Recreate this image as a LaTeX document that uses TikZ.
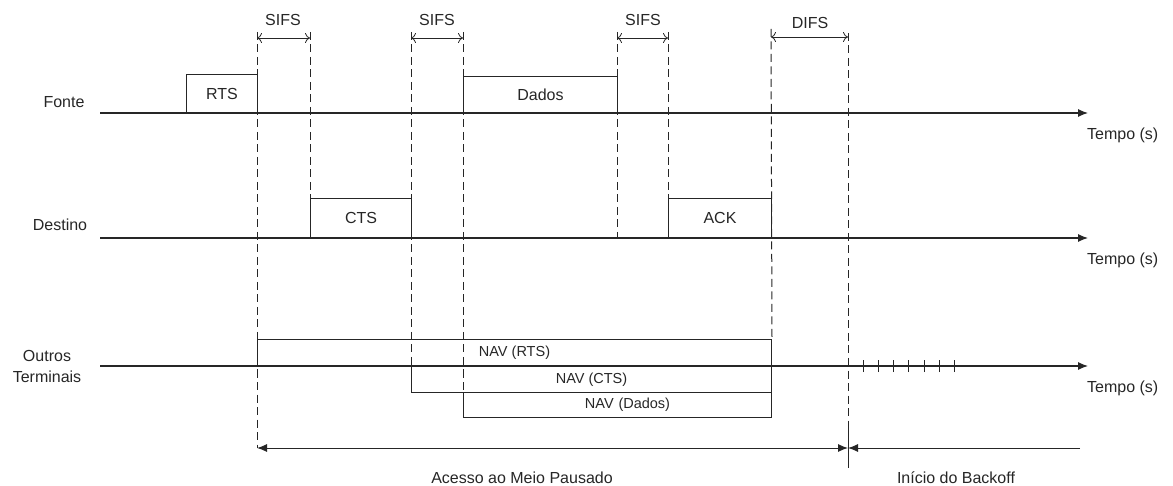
\documentclass[tikz,border=0pt]{standalone}
\usepackage{fontspec}
\setmainfont{Liberation Sans}
\usetikzlibrary{arrows.meta}
\definecolor{ink}{HTML}{262626}
\begin{document}
\begin{tikzpicture}[x=1pt,y=-1pt,
  every node/.style={text=ink, inner sep=0pt, font=\fontsize{16}{19}\selectfont},
  timeline/.style={draw=ink, line width=1.1pt, -{Latex[length=10pt,width=8pt]}},
  guide/.style={draw=ink, line width=1pt, dash pattern=on 8pt off 4.5pt},
  solidguide/.style={draw=ink, line width=1pt},
  frame/.style={draw=ink, line width=1pt, rectangle, inner sep=0pt},
  navframe/.style={frame, font=\fontsize{14.5}{17}\selectfont},
  interval/.style={draw=ink, line width=0.8pt, {To[length=5pt,width=10pt]}-{To[length=5pt,width=10pt]}},
  span/.style={draw=ink, line width=1pt, {Latex[length=10pt,width=8pt]}-{Latex[length=10pt,width=8pt]}},
  spanend/.style={draw=ink, line width=1pt, -{Latex[length=10pt,width=8pt]}},
  slot/.style={draw=ink, line width=1pt}]
\useasboundingbox (0,0) rectangle (1173,486);

% time lines
\coordinate (fonteA) at (100,113);  \coordinate (fonteB) at (1088,113);
\coordinate (destA)  at (100,238);  \coordinate (destB)  at (1088,238);
\coordinate (outA)   at (100,366);  \coordinate (outB)   at (1088,366);

% station names
\node (fonte)   at (64,102)  {Fonte};
\node (destino) at (60,225)  {Destino};
\node[align=center, font=\fontsize{16}{21}\selectfont] (outros) at (47,366) {Outros\\Terminais};

% time axis labels
\node[anchor=west] (tf) at (1087,135) {Tempo (s)};
\node[anchor=west] (td) at (1087,260) {Tempo (s)};
\node[anchor=west] (to) at (1087,388) {Tempo (s)};

% frames on the medium
\node[frame, minimum width=71pt,  minimum height=38pt, anchor=south west] (rts)   at (186,113) {RTS};
\node[frame, minimum width=154pt, minimum height=36pt, anchor=south west] (dados) at (463,113) {Dados};
\node[frame, minimum width=101pt, minimum height=39pt, anchor=south west] (cts)   at (310,238) {CTS};
\node[frame, minimum width=103pt, minimum height=39pt, anchor=south west] (ack)   at (668,238) {ACK};

% network allocation vectors
\node[navframe, minimum width=514pt, minimum height=26pt, anchor=south west] (navrts)   at (257,366) {NAV (RTS)};
\node[navframe, minimum width=360pt, minimum height=26pt, anchor=north west] (navcts)   at (411,366) {NAV (CTS)};
\node[navframe, minimum width=308pt, minimum height=25pt, anchor=north west, text width=308pt, align=center] (navdados) at (463,392) {\hspace*{20pt}NAV (Dados)};

\draw[timeline] (fonteA) -- (fonteB);
\draw[timeline] (destA) -- (destB);
\draw[timeline] (outA) -- (outB);

% guide lines marking the frame boundaries
\coordinate (g1) at (257,32);
\coordinate (g2) at (310,32);
\coordinate (g3) at (411,32);
\coordinate (g4) at (463,32);
\coordinate (g5) at (617,32);
\coordinate (g6) at (668,32);
\coordinate (g7) at (771,29);
\coordinate (g8) at (848,33);
\coordinate (spanL) at (257,448);
\coordinate (spanM) at (848,448);
\coordinate (spanR) at (1080,448);
\coordinate (g8low) at (848,423);
\coordinate (g8end) at (848,468);

\draw[guide] (g1) -- (spanL);
\draw[guide] (g2) -- (cts.north west);
\draw[guide] (g3) -- (navcts.north west);
\draw[guide] (g4) -- (navdados.north west);
\draw[guide] (g5) -- (g5 |- destA);
\draw[guide] (g6) -- (ack.north west);
\draw[guide] (g7) -- (navrts.north east);
\draw[guide] (g8) -- (g8low);
\draw[solidguide] (g8low) -- (g8end);

% interframe spaces
\coordinate (s1a) at (257,38); \coordinate (s1b) at (310,38);
\coordinate (s2a) at (411,38); \coordinate (s2b) at (463,38);
\coordinate (s3a) at (617,38); \coordinate (s3b) at (668,38);
\coordinate (s4a) at (771,37); \coordinate (s4b) at (848,37);
\draw[interval] (s1a) -- (s1b);
\draw[interval] (s2a) -- (s2b);
\draw[interval] (s3a) -- (s3b);
\draw[interval] (s4a) -- (s4b);
\node (sifs1) at (283,20) {SIFS};
\node (sifs2) at (437,20) {SIFS};
\node (sifs3) at (643,20) {SIFS};
\node (difs)  at (810,23) {DIFS};

% backoff slots
\foreach \k in {0,...,6}{
  \coordinate (slot\k) at ({863+15.33*\k},366);
  \draw[slot] ([yshift=-6pt]slot\k) -- ([yshift=6pt]slot\k);
}

% medium access periods
\draw[span] (spanL) -- (spanM);
\draw[spanend] (spanR) -- (spanM);
\node (pausa)   at (522,478) {Acesso ao Meio Pausado};
\node (backoff) at (956,478) {Início do Backoff};
\end{tikzpicture}
\end{document}
